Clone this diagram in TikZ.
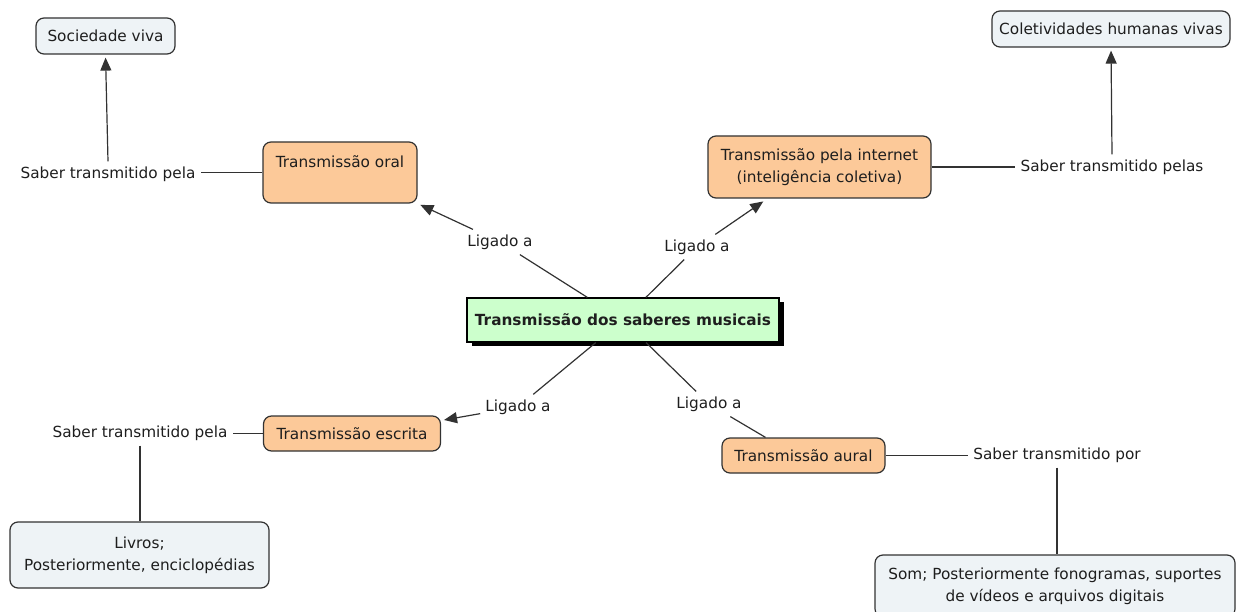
\documentclass[tikz,border=0pt]{standalone}
\usepackage{fontspec}
\setmainfont{DejaVu Sans}
\usetikzlibrary{arrows.meta,shadows}
\definecolor{conc}{RGB}{252,201,153}
\definecolor{leafc}{RGB}{238,243,246}
\definecolor{cgreen}{RGB}{204,255,204}
\definecolor{bord}{RGB}{50,50,50}
\definecolor{txt}{RGB}{30,30,30}
\begin{document}
\begin{tikzpicture}[x=1pt,y=-1pt,
  every node/.style={font=\fontsize{15.3}{22}\selectfont, text=txt},
  box/.style={draw=bord, line width=1.2pt, rounded corners=8pt, align=center, inner sep=0pt},
  concept/.style={box, fill=conc},
  leaf/.style={box, fill=leafc},
  lbl/.style={inner sep=5pt},
  conn/.style={draw=bord, line width=1.2pt},
  arr/.style={conn, -{Triangle[length=13pt,width=11pt]}, shorten >=3pt}]
\useasboundingbox (0,0) rectangle (1236,612);

% central node
\node[draw=black, line width=1.2pt, fill=cgreen, minimum width=312pt, minimum height=44pt,
      inner sep=0pt, font=\fontsize{15.3}{22}\selectfont\bfseries,
      drop shadow={shadow xshift=5pt, shadow yshift=-4pt, fill=black, opacity=1}]
      (c) at (623,320) {Transmissão dos saberes musicais};

% concepts
\node[concept, minimum width=154pt, minimum height=61pt] (oral) at (340,172.5) {Transmissão oral\\ \mbox{}};
\node[concept, minimum width=223pt, minimum height=62pt] (inet) at (819.5,167) {Transmissão pela internet\\(inteligência coletiva)};
\node[concept, minimum width=177pt, minimum height=35pt] (escrita) at (352,433.5) {Transmissão escrita};
\node[concept, minimum width=163pt, minimum height=35pt] (aural) at (803.5,455.5) {Transmissão aural};

% leaves
\node[leaf, minimum width=139pt, minimum height=36pt] (soc) at (105.5,36) {Sociedade viva};
\node[leaf, minimum width=238pt, minimum height=36pt] (colet) at (1111,29) {Coletividades humanas vivas};
\node[leaf, minimum width=259pt, minimum height=66pt] (livros) at (139.5,555) {Livros;\\Posteriormente, enciclopédias};
\node[leaf, minimum width=360pt, minimum height=62pt] (som) at (1055,586) {Som; Posteriormente fonogramas, suportes\\de vídeos e arquivos digitais};

% linking labels
\node[lbl] (lig1) at (500,242) {Ligado a};
\node[lbl] (lig2) at (697,247) {Ligado a};
\node[lbl] (lig3) at (518,407) {Ligado a};
\node[lbl] (lig4) at (709,404) {Ligado a};
\node[lbl] (sabL1) at (108,174) {Saber transmitido pela};
\node[lbl] (sabR1) at (1112,167) {Saber transmitido pelas};
\node[lbl] (sabL2) at (140,433) {Saber transmitido pela};
\node[lbl] (sabR2) at (1057,455) {Saber transmitido por};

% connectors
\draw[conn] (c) -- (lig1);
\draw[arr] (lig1) -- (oral.south east);
\draw[conn] (c) -- (lig2);
\draw[arr, shorten >=5pt] (lig2) -- ([xshift=60pt]inet.south west);
\draw[conn] (c) -- (lig3);
\draw[arr] (lig3) -- ([yshift=13pt]escrita.east);
\draw[conn] (c) -- (lig4);
\draw[conn] (lig4) -- ([xshift=-38pt]aural.north);

\draw[conn] (oral.west) -- (oral.west -| sabL1.east);
\draw[arr] (sabL1.north) -- (soc.south);
\draw[conn] (inet.east) -- (inet.east -| sabR1.west);
\draw[arr] (sabR1.north) -- (colet.south);
\draw[conn] (escrita.west) -- (escrita.west -| sabL2.east);
\draw[conn] (sabL2.south) -- (sabL2.south |- livros.north);
\draw[conn] (aural.east) -- (aural.east -| sabR2.west);
\draw[conn] (sabR2.south) -- (sabR2.south |- som.north);
\end{tikzpicture}
\end{document}
